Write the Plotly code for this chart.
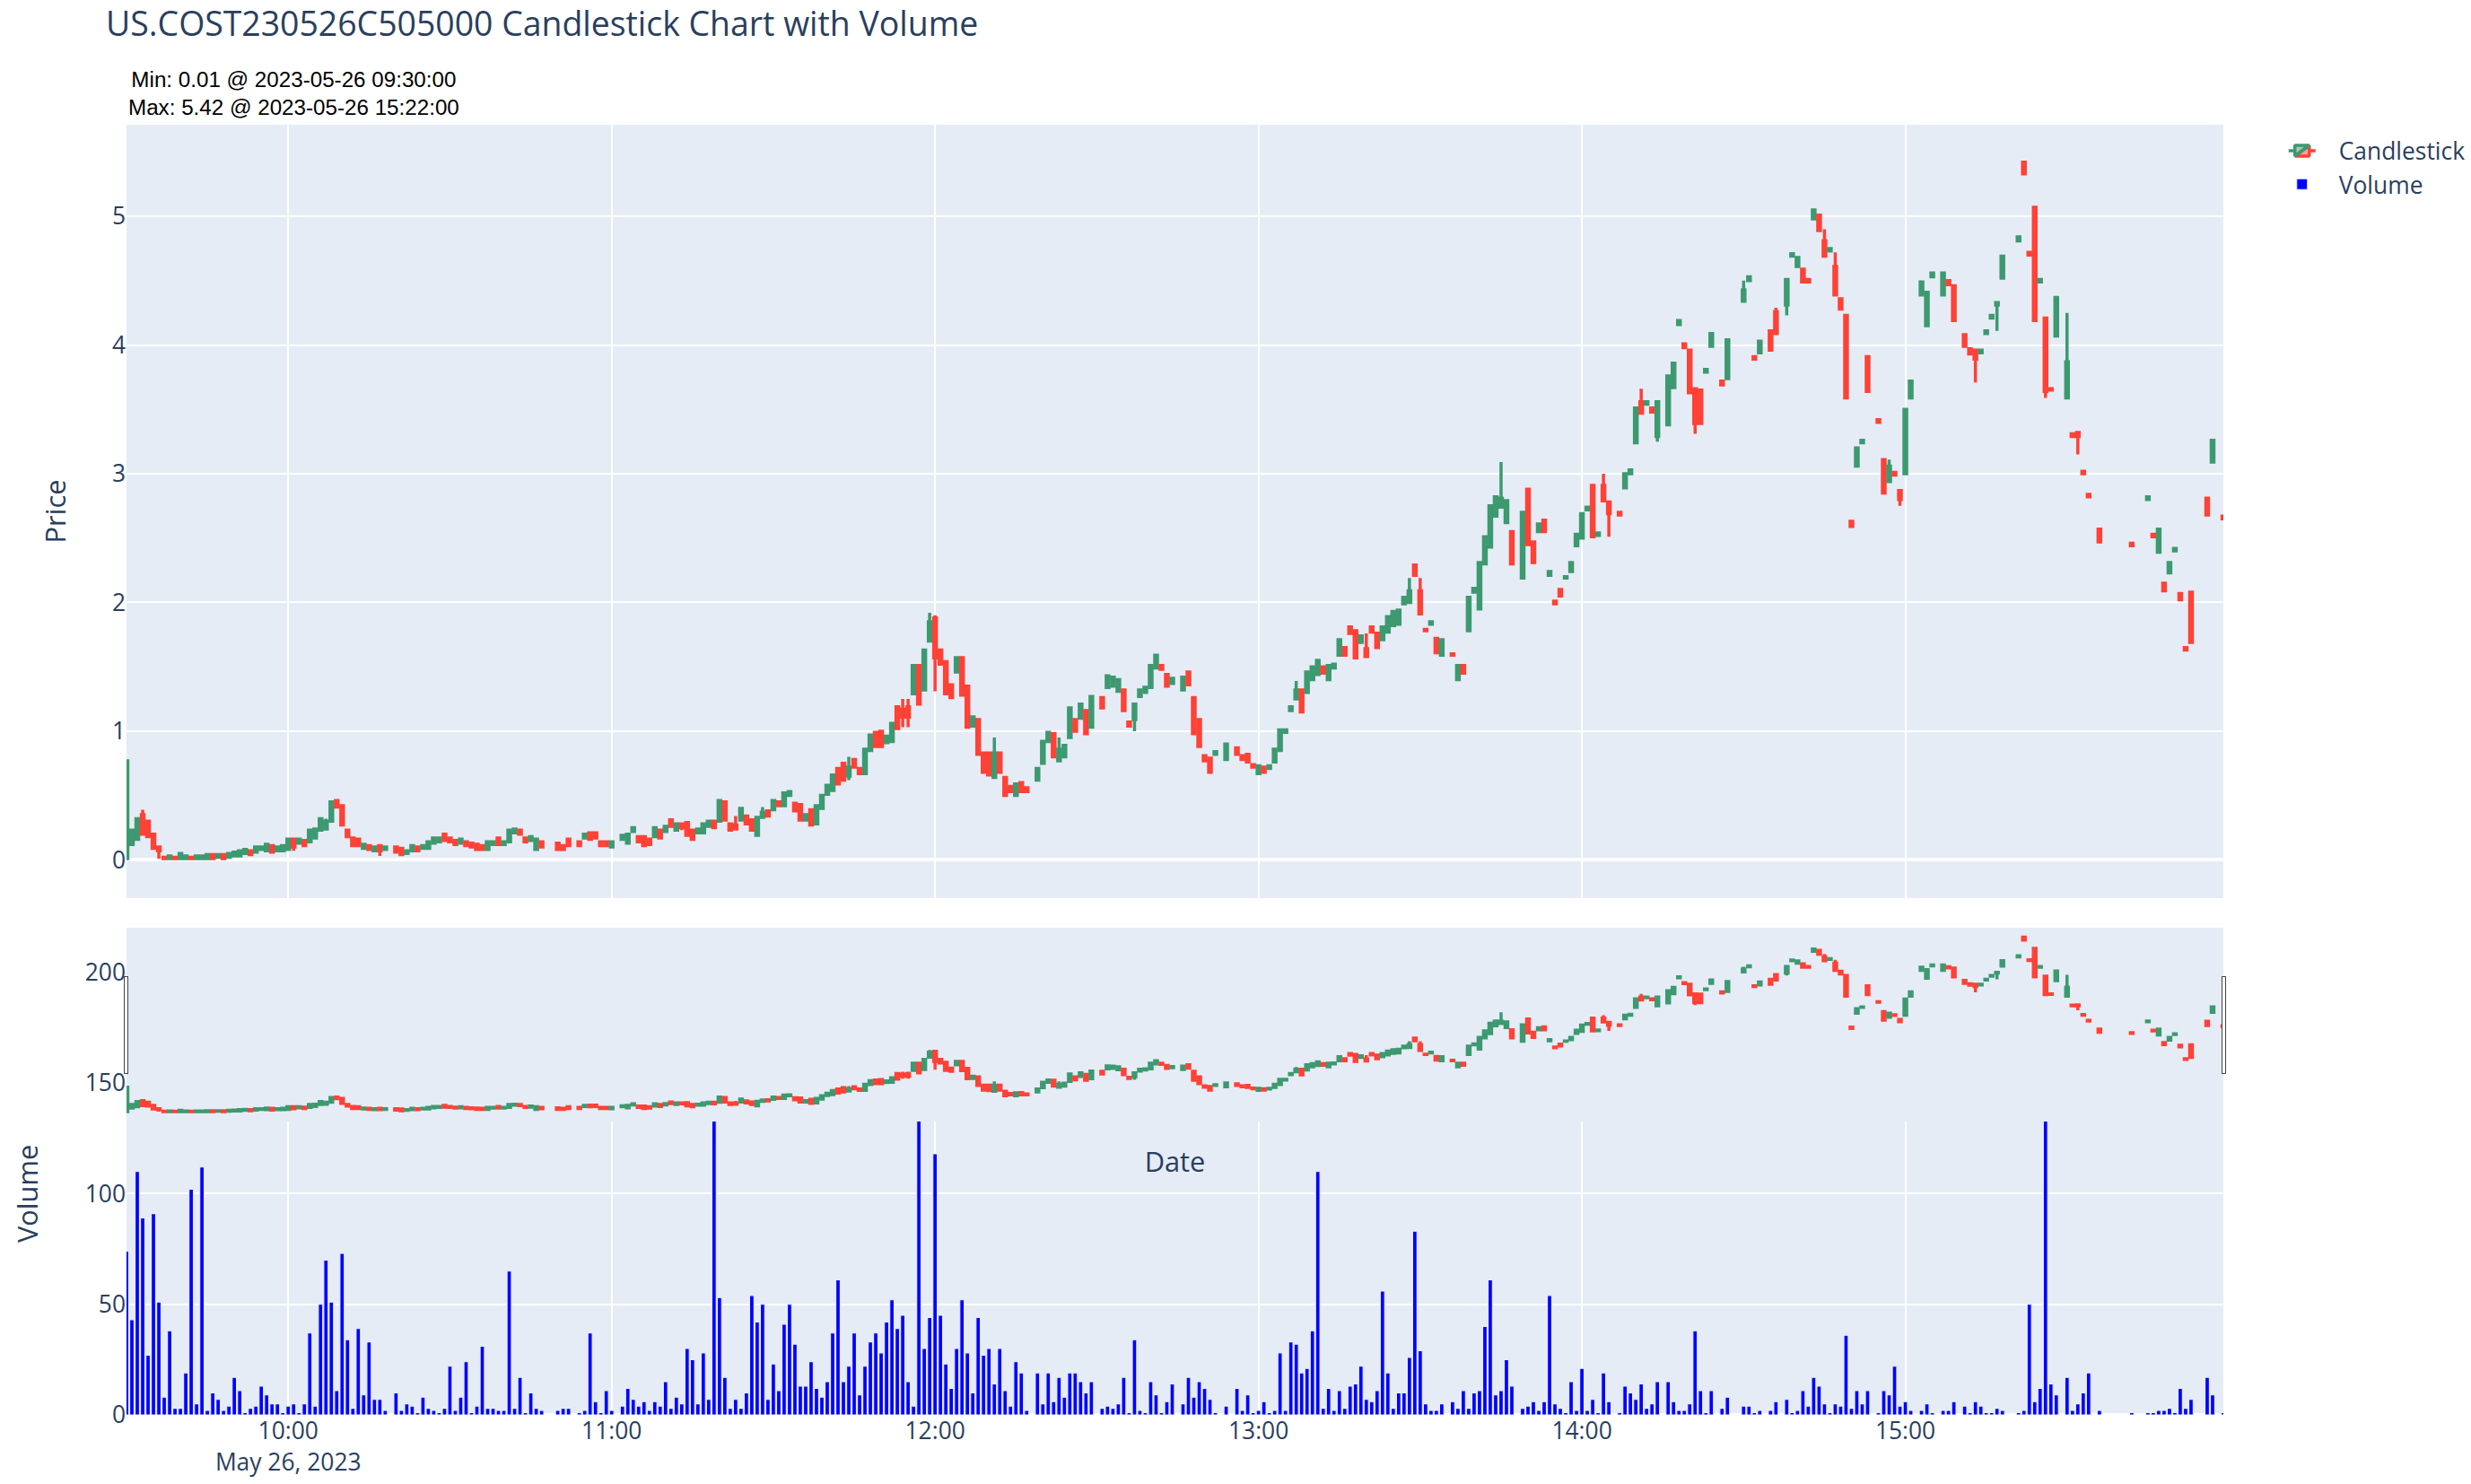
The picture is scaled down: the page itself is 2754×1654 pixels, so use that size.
import pandas as pd
import plotly.graph_objects as go
from plotly.subplots import make_subplots

S = 2754 / 1568   # geometric scale of the reference
F = 2.2           # font scale of the reference

SESSION_START = "2023-05-26 09:30"
SESSION_END = "2023-05-26 15:59"
TITLE = "US.COST230526C505000 Candlestick Chart with Volume"
NOTE = "Min: 0.01 @ 2023-05-26 09:30:00<br>Max: 5.42 @ 2023-05-26 15:22:00"

# one value per minute of the session (09:30 ... 15:59); None = no trade
open_ = [
    0.01, 0.12, 0.16, 0.35, 0.30, 0.20, 0.10, 0.02, 0.01, 0.02,  # 09:30
    0.01, 0.01, 0.02, 0.01, 0.01, 0.01, 0.04, 0.02, 0.04, 0.02,
    0.03, 0.03, 0.05, 0.07, 0.06, 0.08, 0.07, 0.11, 0.07, 0.07,
    0.08, 0.16, 0.13, 0.15, 0.14, 0.17, 0.23, 0.24, 0.30, 0.46,  # 10:00
    0.42, 0.23, 0.17, 0.16, 0.09, 0.11, 0.07, 0.11, 0.08, None,
    0.10, 0.09, 0.05, 0.07, 0.10, 0.09, 0.09, 0.13, 0.14, 0.20,
    0.17, 0.15, 0.13, 0.14, 0.13, 0.12, 0.11, 0.08, 0.12, 0.17,  # 10:30
    0.12, 0.14, 0.21, 0.23, 0.17, 0.15, 0.08, 0.14, None, None,
    0.13, 0.11, 0.16, None, 0.14, 0.17, 0.21, 0.21, 0.14, 0.14,
    0.10, None, 0.16, 0.13, 0.22, 0.18, 0.18, 0.16, 0.18, 0.23,  # 11:00
    0.22, 0.31, 0.23, 0.28, 0.29, 0.23, 0.21, 0.21, 0.26, 0.30,
    0.30, 0.45, 0.28, 0.27, 0.31, 0.34, 0.31, 0.19, 0.33, 0.38,
    0.39, 0.45, 0.42, 0.50, 0.44, 0.43, 0.31, 0.39, 0.28, 0.40,  # 11:30
    0.51, 0.54, 0.71, 0.75, 0.65, 0.78, 0.71, 0.67, 0.85, 0.99,
    1.00, 0.91, 0.92, 1.19, 1.17, 1.19, 1.29, 1.51, 1.32, 1.70,
    1.88, 1.63, 1.54, 1.36, 1.46, 1.57, 1.35, 1.04, 1.09, 0.83,  # 12:00
    0.83, 0.64, 0.83, 0.64, 0.57, 0.50, 0.60, 0.56, None, 0.62,
    0.75, 0.92, 0.98, 0.77, 0.80, 0.95, 1.09, 1.10, 1.16, 1.03,
    None, 1.26, 1.34, 1.35, 1.31, 1.32, 1.07, 1.09, 1.27, 1.30,  # 12:30
    1.34, 1.49, 1.51, 1.44, 1.37, None, 1.32, 1.46, 1.26, 1.09,
    0.81, 0.79, 0.82, None, 0.78, None, 0.87, 0.81, 0.82, 0.74,
    0.67, 0.72, 0.71, 0.76, 0.85, 0.99, 1.16, 1.25, 1.32, 1.30,  # 13:00
    1.40, 1.44, 1.50, 1.40, 1.49, 1.59, 1.65, 1.81, 1.78, 1.69,
    1.64, 1.81, 1.76, 1.71, 1.77, 1.82, 1.83, 1.99, 2.00, 2.29,
    2.09, 1.79, 1.83, 1.72, 1.59, None, 1.60, 1.40, 1.51, 1.78,  # 13:30
    2.08, 1.95, 2.30, 2.43, 2.67, 2.74, 2.62, 2.55, None, 2.19,
    2.88, 2.47, 2.55, 2.64, 2.21, 2.01, 2.10, 2.19, 2.24, 2.44,
    2.50, 2.72, 2.91, 2.52, 2.91, 2.78, None, 2.70, 2.89, 3.00,  # 14:00
    3.24, 3.56, 3.54, 3.51, 3.29, None, 3.38, 3.67, 4.16, 4.01,
    3.96, 3.66, 3.65, 3.79, 3.99, None, 3.72, 3.74, None, None,
    4.34, 4.50, 3.91, 3.94, None, 4.11, 4.26, None, 4.31, 4.69,  # 14:30
    4.61, 4.59, 4.51, 4.98, 5.01, 4.81, 4.73, 4.61, 4.36, 4.23,
    2.63, 3.06, 3.24, 3.91, None, 3.42, 3.11, 2.94, 3.01, 2.87,
    3.00, 3.59, None, 4.39, 4.15, 4.53, None, 4.39, 4.50, 4.46,  # 15:00
    None, 4.08, 3.97, 3.96, 3.94, 4.09, 4.21, 4.31, 4.52, None,
    None, 4.81, 5.42, 4.72, 5.07, 4.49, 4.21, 3.66, 4.07, None,
    3.59, 3.31, 3.32, 3.02, 2.84, None, 2.57, None, None, None,  # 15:30
    None, None, 2.46, None, None, 2.80, 2.53, 2.39, 2.15, 2.23,
    2.40, 2.07, 1.65, 2.08, None, None, 2.81, 3.09, None, 2.67,
]
high = [
    0.77, 0.23, 0.32, 0.39, 0.30, 0.20, 0.10, 0.02, 0.03, 0.02,  # 09:30
    0.05, 0.03, 0.02, 0.03, 0.03, 0.04, 0.04, 0.04, 0.04, 0.05,
    0.06, 0.07, 0.08, 0.07, 0.10, 0.10, 0.12, 0.11, 0.10, 0.11,
    0.16, 0.17, 0.16, 0.15, 0.23, 0.24, 0.32, 0.32, 0.45, 0.46,  # 10:00
    0.42, 0.23, 0.17, 0.16, 0.12, 0.11, 0.10, 0.11, 0.10, None,
    0.10, 0.09, 0.07, 0.11, 0.10, 0.11, 0.14, 0.17, 0.17, 0.20,
    0.17, 0.15, 0.16, 0.14, 0.13, 0.12, 0.11, 0.14, 0.14, 0.17,  # 10:30
    0.14, 0.23, 0.24, 0.23, 0.17, 0.18, 0.16, 0.14, None, None,
    0.13, 0.11, 0.16, None, 0.14, 0.20, 0.21, 0.21, 0.14, 0.14,
    0.14, None, 0.19, 0.20, 0.25, 0.18, 0.18, 0.16, 0.25, 0.23,  # 11:00
    0.26, 0.31, 0.28, 0.28, 0.29, 0.23, 0.24, 0.28, 0.30, 0.30,
    0.46, 0.45, 0.28, 0.34, 0.40, 0.34, 0.31, 0.33, 0.41, 0.38,
    0.46, 0.45, 0.52, 0.53, 0.44, 0.43, 0.35, 0.39, 0.42, 0.50,  # 11:30
    0.58, 0.66, 0.71, 0.75, 0.80, 0.78, 0.71, 0.86, 0.97, 0.99,
    1.00, 0.96, 1.06, 1.19, 1.25, 1.25, 1.51, 1.51, 1.63, 1.92,
    1.90, 1.63, 1.54, 1.36, 1.57, 1.57, 1.35, 1.11, 1.09, 0.83,  # 12:00
    0.83, 0.95, 0.83, 0.64, 0.57, 0.59, 0.60, 0.56, None, 0.71,
    0.92, 0.99, 0.98, 0.95, 0.89, 1.18, 1.09, 1.21, 1.16, 1.27,
    None, 1.26, 1.43, 1.42, 1.40, 1.32, 1.07, 1.21, 1.32, 1.34,  # 12:30
    1.51, 1.59, 1.51, 1.44, 1.41, None, 1.42, 1.46, 1.26, 1.09,
    0.81, 0.79, 0.84, None, 0.90, None, 0.87, 0.81, 0.82, 0.74,
    0.73, 0.72, 0.73, 0.86, 1.01, 1.01, 1.19, 1.39, 1.32, 1.46,  # 13:00
    1.50, 1.55, 1.50, 1.51, 1.52, 1.71, 1.65, 1.81, 1.78, 1.74,
    1.76, 1.81, 1.76, 1.81, 1.89, 1.93, 1.94, 2.04, 2.19, 2.29,
    2.19, 1.79, 1.85, 1.72, 1.71, None, 1.60, 1.51, 1.51, 2.04,  # 13:30
    2.11, 2.31, 2.51, 2.75, 2.82, 3.09, 2.79, 2.55, None, 2.70,
    2.88, 2.47, 2.61, 2.64, 2.24, 2.01, 2.10, 2.20, 2.31, 2.53,
    2.69, 2.74, 2.91, 2.54, 3.00, 2.78, None, 2.70, 3.00, 3.03,  # 14:00
    3.51, 3.66, 3.56, 3.51, 3.56, None, 3.76, 3.86, 4.19, 4.01,
    3.96, 3.66, 3.65, 3.81, 4.09, None, 3.72, 4.04, None, None,
    4.50, 4.53, 3.91, 4.03, None, 4.11, 4.29, None, 4.51, 4.71,  # 14:30
    4.68, 4.59, 4.51, 5.05, 5.01, 4.90, 4.75, 4.72, 4.36, 4.23,
    2.63, 3.20, 3.26, 3.91, None, 3.42, 3.11, 3.11, 3.01, 2.87,
    3.50, 3.72, None, 4.49, 4.41, 4.56, None, 4.56, 4.50, 4.46,  # 15:00
    None, 4.08, 3.97, 3.96, 3.96, 4.11, 4.23, 4.33, 4.69, None,
    None, 4.84, 5.42, 4.72, 5.07, 4.51, 4.21, 3.66, 4.37, None,
    4.25, 3.31, 3.32, 3.02, 2.84, None, 2.57, None, None, None,  # 15:30
    None, None, 2.46, None, None, 2.82, 2.53, 2.57, 2.15, 2.31,
    2.42, 2.07, 1.65, 2.08, None, None, 2.81, 3.26, None, 2.67,
]
low = [
    0.01, 0.12, 0.16, 0.20, 0.18, 0.09, 0.01, 0.01, 0.01, 0.01,  # 09:30
    0.01, 0.01, 0.01, 0.01, 0.01, 0.01, 0.01, 0.02, 0.01, 0.02,
    0.03, 0.03, 0.05, 0.04, 0.06, 0.08, 0.07, 0.06, 0.07, 0.07,
    0.08, 0.07, 0.13, 0.11, 0.14, 0.17, 0.23, 0.24, 0.30, 0.41,  # 10:00
    0.27, 0.18, 0.11, 0.11, 0.09, 0.08, 0.07, 0.03, 0.08, None,
    0.06, 0.04, 0.05, 0.07, 0.07, 0.09, 0.09, 0.13, 0.14, 0.15,
    0.14, 0.12, 0.13, 0.11, 0.10, 0.08, 0.08, 0.08, 0.12, 0.12,  # 10:30
    0.12, 0.14, 0.21, 0.20, 0.14, 0.15, 0.08, 0.10, None, None,
    0.08, 0.08, 0.11, None, 0.11, 0.17, 0.16, 0.17, 0.11, 0.11,
    0.10, None, 0.16, 0.13, 0.22, 0.14, 0.11, 0.12, 0.18, 0.17,  # 11:00
    0.22, 0.26, 0.23, 0.23, 0.19, 0.16, 0.21, 0.21, 0.26, 0.25,
    0.30, 0.31, 0.23, 0.24, 0.31, 0.28, 0.23, 0.19, 0.32, 0.34,
    0.39, 0.42, 0.42, 0.50, 0.38, 0.31, 0.31, 0.27, 0.28, 0.40,  # 11:30
    0.51, 0.54, 0.59, 0.62, 0.62, 0.72, 0.67, 0.67, 0.85, 0.88,
    0.88, 0.91, 0.92, 1.02, 1.03, 1.03, 1.29, 1.21, 1.32, 1.70,
    1.31, 1.52, 1.29, 1.26, 1.46, 1.28, 1.03, 1.04, 0.82, 0.68,  # 12:00
    0.66, 0.63, 0.68, 0.50, 0.53, 0.50, 0.53, 0.53, None, 0.62,
    0.75, 0.92, 0.80, 0.77, 0.80, 0.95, 1.00, 1.10, 0.98, 1.03,
    None, 1.18, 1.34, 1.35, 1.31, 1.16, 1.04, 1.00, 1.27, 1.30,  # 12:30
    1.34, 1.49, 1.48, 1.35, 1.37, None, 1.32, 1.36, 0.98, 0.88,
    0.77, 0.68, 0.82, None, 0.78, None, 0.82, 0.78, 0.76, 0.72,
    0.67, 0.68, 0.71, 0.76, 0.85, 0.99, 1.16, 1.25, 1.15, 1.30,  # 13:00
    1.40, 1.44, 1.45, 1.40, 1.49, 1.59, 1.59, 1.76, 1.57, 1.69,
    1.58, 1.77, 1.65, 1.71, 1.77, 1.82, 1.83, 1.99, 2.00, 2.21,
    1.91, 1.78, 1.83, 1.61, 1.59, None, 1.59, 1.40, 1.45, 1.78,  # 13:30
    2.08, 1.95, 2.30, 2.43, 2.67, 2.74, 2.62, 2.30, None, 2.19,
    2.45, 2.31, 2.55, 2.55, 2.21, 1.99, 2.05, 2.19, 2.24, 2.44,
    2.50, 2.72, 2.51, 2.52, 2.79, 2.51, None, 2.68, 2.89, 3.00,  # 14:00
    3.24, 3.47, 3.54, 3.48, 3.25, None, 3.38, 3.67, 4.16, 3.98,
    3.63, 3.31, 3.39, 3.79, 3.99, None, 3.69, 3.74, None, None,
    4.34, 4.50, 3.89, 3.94, None, 3.96, 4.09, None, 4.23, 4.69,  # 14:30
    4.61, 4.49, 4.49, 4.98, 4.89, 4.69, 4.73, 4.39, 4.28, 3.59,
    2.59, 3.06, 3.24, 3.64, None, 3.40, 2.85, 2.94, 2.99, 2.75,
    3.00, 3.59, None, 4.39, 4.15, 4.53, None, 4.39, 4.47, 4.19,  # 15:00
    None, 3.99, 3.93, 3.71, 3.94, 4.09, 4.21, 4.11, 4.52, None,
    None, 4.81, 5.33, 4.70, 4.19, 4.49, 3.59, 3.65, 4.07, None,
    3.59, 3.29, 3.15, 3.00, 2.82, None, 2.47, None, None, None,  # 15:30
    None, None, 2.44, None, None, 2.80, 2.51, 2.39, 2.09, 2.23,
    2.40, 2.02, 1.63, 1.69, None, None, 2.68, 3.09, None, 2.65,
]
close = [
    0.77, 0.23, 0.32, 0.20, 0.18, 0.09, 0.07, 0.01, 0.03, 0.01,  # 09:30
    0.05, 0.03, 0.01, 0.03, 0.03, 0.04, 0.01, 0.04, 0.01, 0.05,
    0.06, 0.07, 0.08, 0.04, 0.10, 0.10, 0.12, 0.06, 0.10, 0.11,
    0.16, 0.10, 0.16, 0.11, 0.23, 0.24, 0.32, 0.30, 0.45, 0.41,  # 10:00
    0.27, 0.18, 0.11, 0.11, 0.12, 0.08, 0.10, 0.07, 0.10, None,
    0.06, 0.04, 0.07, 0.11, 0.07, 0.11, 0.14, 0.17, 0.17, 0.15,
    0.14, 0.12, 0.16, 0.11, 0.10, 0.08, 0.08, 0.14, 0.14, 0.12,  # 10:30
    0.14, 0.23, 0.24, 0.20, 0.14, 0.18, 0.16, 0.10, None, None,
    0.08, 0.08, 0.11, None, 0.11, 0.20, 0.16, 0.17, 0.11, 0.11,
    0.14, None, 0.19, 0.20, 0.25, 0.14, 0.11, 0.12, 0.25, 0.17,  # 11:00
    0.26, 0.26, 0.28, 0.25, 0.19, 0.16, 0.24, 0.28, 0.30, 0.25,
    0.46, 0.31, 0.23, 0.24, 0.40, 0.28, 0.23, 0.33, 0.37, 0.34,
    0.46, 0.42, 0.52, 0.53, 0.38, 0.31, 0.35, 0.27, 0.42, 0.50,  # 11:30
    0.58, 0.66, 0.59, 0.62, 0.72, 0.72, 0.67, 0.86, 0.97, 0.88,
    0.88, 0.96, 1.06, 1.02, 1.11, 1.11, 1.51, 1.21, 1.63, 1.85,
    1.57, 1.52, 1.29, 1.26, 1.57, 1.28, 1.03, 1.11, 0.82, 0.68,  # 12:00
    0.66, 0.83, 0.68, 0.50, 0.53, 0.59, 0.53, 0.53, None, 0.71,
    0.92, 0.99, 0.80, 0.86, 0.89, 1.18, 1.00, 1.21, 0.98, 1.27,
    None, 1.18, 1.43, 1.42, 1.40, 1.16, 1.04, 1.21, 1.32, 1.34,  # 12:30
    1.51, 1.59, 1.48, 1.35, 1.41, None, 1.42, 1.36, 0.98, 0.88,
    0.77, 0.68, 0.84, None, 0.90, None, 0.82, 0.78, 0.76, 0.72,
    0.73, 0.68, 0.73, 0.86, 1.01, 1.01, 1.19, 1.32, 1.15, 1.46,  # 13:00
    1.50, 1.55, 1.45, 1.51, 1.52, 1.71, 1.59, 1.76, 1.57, 1.74,
    1.58, 1.77, 1.65, 1.81, 1.89, 1.93, 1.94, 2.04, 2.09, 2.21,
    1.91, 1.78, 1.85, 1.61, 1.71, None, 1.59, 1.51, 1.45, 2.04,  # 13:30
    2.11, 2.31, 2.51, 2.75, 2.82, 2.81, 2.79, 2.30, None, 2.70,
    2.45, 2.31, 2.61, 2.55, 2.24, 1.99, 2.05, 2.20, 2.31, 2.53,
    2.69, 2.74, 2.51, 2.54, 2.79, 2.69, None, 2.68, 3.00, 3.03,  # 14:00
    3.51, 3.47, 3.56, 3.48, 3.56, None, 3.76, 3.86, 4.19, 3.98,
    3.63, 3.39, 3.39, 3.81, 4.09, None, 3.69, 4.04, None, None,
    4.43, 4.53, 3.89, 4.03, None, 3.96, 4.09, None, 4.51, 4.71,  # 14:30
    4.68, 4.49, 4.49, 5.05, 4.89, 4.69, 4.75, 4.39, 4.28, 3.59,
    2.59, 3.20, 3.26, 3.64, None, 3.40, 2.85, 3.06, 2.99, 2.80,
    3.50, 3.72, None, 4.49, 4.41, 4.56, None, 4.56, 4.47, 4.19,  # 15:00
    None, 3.99, 3.93, 3.89, 3.96, 4.11, 4.23, 4.33, 4.69, None,
    None, 4.84, 5.33, 4.70, 4.19, 4.51, 3.64, 3.65, 4.37, None,
    3.87, 3.29, 3.29, 3.00, 2.82, None, 2.47, None, None, None,  # 15:30
    None, None, 2.44, None, None, 2.82, 2.51, 2.57, 2.09, 2.31,
    2.42, 2.02, 1.63, 1.69, None, None, 2.68, 3.26, None, 2.65,
]
volume = [
    74, 43, 110, 89, 27, 91, 51, 8, 38, 3,  # 09:30
    3, 19, 102, 5, 112, 2, 10, 7, 2, 4,
    17, 11, 1, 3, 4, 13, 9, 5, 5, 1,
    4, 5, 1, 5, 37, 4, 50, 70, 51, 11,  # 10:00
    73, 34, 3, 39, 9, 33, 7, 7, 2, None,
    10, 2, 5, 4, 1, 8, 3, 2, 1, 3,
    22, 2, 8, 24, 1, 4, 31, 3, 3, 2,  # 10:30
    2, 65, 3, 17, 1, 10, 3, 2, None, None,
    2, 3, 3, None, 1, 2, 37, 6, 1, 11,
    2, None, 4, 12, 7, 4, 6, 2, 6, 4,  # 11:00
    15, 3, 8, 5, 30, 25, 5, 28, 7, 133,
    53, 17, 3, 7, 3, 10, 54, 42, 50, 7,
    23, 11, 41, 50, 32, 13, 13, 24, 12, 8,  # 11:30
    15, 37, 61, 15, 22, 37, 9, 22, 33, 37,
    28, 42, 52, 39, 45, 15, 4, 133, 30, 44,
    118, 45, 23, 12, 30, 52, 28, 10, 44, 27,  # 12:00
    30, 14, 30, 11, 4, 24, 19, 2, None, 19,
    5, 19, 6, 17, 8, 19, 19, 15, 10, 15,
    None, 3, 4, 3, 5, 17, 1, 34, 2, 1,  # 12:30
    15, 9, 1, 6, 14, None, 5, 17, 8, 15,
    12, 7, 1, None, 4, None, 12, 2, 9, 1,
    2, 6, 1, 2, 28, 2, 33, 32, 19, 21,  # 13:00
    38, 110, 3, 12, 2, 11, 3, 13, 14, 22,
    7, 6, 11, 56, 19, 3, 10, 10, 26, 83,
    29, 5, 2, 2, 5, None, 6, 3, 11, 3,  # 13:30
    10, 11, 40, 61, 9, 11, 25, 13, None, 3,
    4, 6, 2, 6, 54, 5, 3, 1, 15, 2,
    21, 2, 7, 1, 19, 6, None, 1, 13, 10,  # 14:00
    7, 14, 3, 5, 15, None, 15, 6, 2, 2,
    5, 38, 11, 1, 11, None, 3, 8, None, None,
    4, 4, 1, 2, None, 2, 6, None, 7, 1,  # 14:30
    2, 11, 4, 17, 13, 5, 1, 5, 4, 36,
    3, 11, 5, 11, None, 1, 11, 9, 22, 4,
    6, 2, None, 2, 5, 1, None, 2, 2, 6,  # 15:00
    None, 4, 1, 6, 4, 1, 1, 3, 2, None,
    None, 1, 2, 50, 6, 12, 133, 14, 9, None,
    17, 2, 5, 10, 19, None, 2, None, None, None,  # 15:30
    None, None, 1, None, None, 1, 1, 2, 2, 3,
    1, 12, 3, 7, None, None, 17, 9, None, 1,
]

times = pd.date_range(SESSION_START, periods=len(open_), freq="min")

fig = make_subplots(rows=2, cols=1, shared_xaxes=True,
                    vertical_spacing=0.057, row_heights=[0.7, 0.4])

fig.add_trace(
    go.Candlestick(
        x=times, open=open_, high=high, low=low, close=close,
        name="Candlestick",
        increasing=dict(line=dict(width=2 * S)),
        decreasing=dict(line=dict(width=2 * S)),
    ),
    row=1, col=1,
)
fig.add_trace(
    go.Bar(
        x=times, y=volume, name="Volume",
        marker=dict(color="blue", line=dict(color="#E5ECF6", width=0.5 * F)),
    ),
    row=2, col=1,
)

fig.add_annotation(
    text=NOTE, xref="paper", yref="paper", x=0.0798, y=1.0240,
    xanchor="center", yanchor="middle", showarrow=False,
    font=dict(family="Arial, Liberation Sans, sans-serif", size=11 * F, color="black"),
)

axis_common = dict(gridwidth=1 * F, zerolinewidth=2 * F, tickfont=dict(size=12 * F))

fig.update_layout(
    width=2754, height=1654,
    margin=dict(l=141, r=276, t=139, b=77, autoexpand=False),
    font=dict(size=12 * F),
    title=dict(text=TITLE, x=118 / 2754, xanchor="left", y=1 - 27 / 1654,
               yanchor="middle", font=dict(size=17 * F)),
    legend=dict(font=dict(size=12 * F), itemwidth=72, y=0.9963),
    xaxis=dict(range=[SESSION_START, SESSION_END],
               showticklabels=True, tickformat="%H:%M",
               tickfont=dict(size=13, color="rgba(0,0,0,0)"),
               title=dict(text="Date", font=dict(size=14 * F), standoff=49),
               rangeslider=dict(visible=True, thickness=0.15, bgcolor="#E5ECF6",
                                range=[SESSION_START, SESSION_END]),
               gridwidth=1 * F),
    xaxis2=dict(range=[SESSION_START, SESSION_END], **axis_common),
    yaxis=dict(domain=[0.4006, 1.0], range=[-0.297, 5.712],
               title=dict(text="Price", font=dict(size=14 * F), standoff=42),
               **axis_common),
    yaxis2=dict(domain=[0.0, 0.343], range=[0, 200],
                title=dict(text="Volume", font=dict(size=14 * F), standoff=42),
                **axis_common),
)

fig.write_html("out.html")
